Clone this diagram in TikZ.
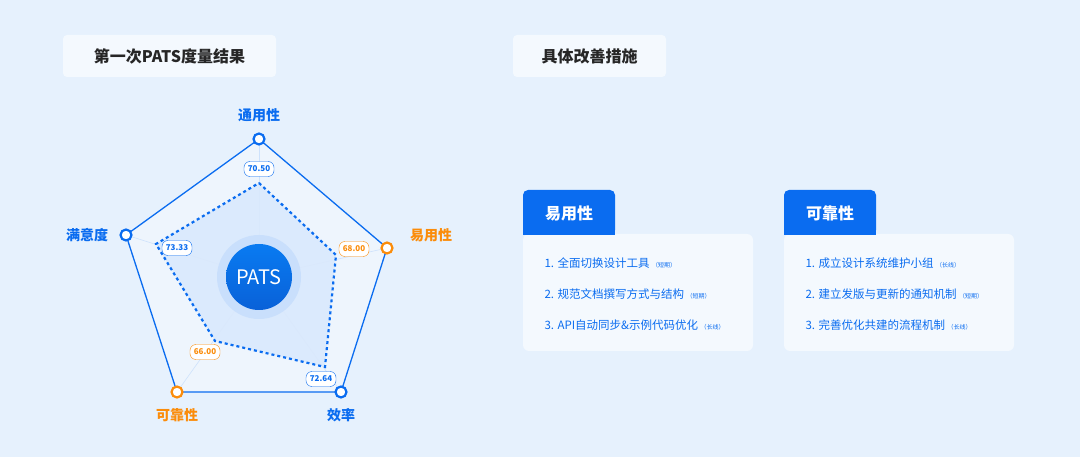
\documentclass[tikz,border=0pt]{standalone}
\usepackage{fontspec}
\setmainfont{Noto Sans CJK SC}
\definecolor{bg}{HTML}{E6F1FD}
\definecolor{blu}{HTML}{0A6CF0}
\definecolor{org}{HTML}{FB8C0A}
\definecolor{card}{HTML}{F4F9FE}
\tikzset{
 titlebox/.style={fill=card,rounded corners=4pt,minimum height=42pt,font=\fontsize{16}{18}\selectfont\bfseries,text=black!85},
 val/.style={draw=#1,fill=white,rounded corners=6pt,font=\fontsize{8}{9}\selectfont\bfseries,text=#1,inner sep=2pt,minimum width=30pt,minimum height=15pt},
 vtx/.style={circle,draw=#1,line width=2.2pt,fill=white,minimum size=11pt,inner sep=0pt},
 axl/.style={font=\fontsize{14}{16}\selectfont\bfseries,text=#1},
 item/.style={anchor=west,font=\fontsize{11.5}{13}\selectfont,text=blu}
}
\begin{document}
\begin{tikzpicture}[x=1pt,y=-1pt]
\fill[bg] (0,0) rectangle (1080,457);
\useasboundingbox (0,0) rectangle (1080,457);
\node[titlebox,minimum width=213pt] (t1) at (169.5,56) {第一次PATS度量结果};
\node[titlebox,minimum width=153pt] (t2) at (589.5,56) {具体改善措施};
% radar
\coordinate (c) at (259,277);
\coordinate (a1) at (259,139);\coordinate (a2) at (387,248);\coordinate (a3) at (341,392);
\coordinate (a4) at (177,392);\coordinate (a5) at (126,235);
\fill[white,opacity=0.35] (a1)--(a2)--(a3)--(a4)--(a5)--cycle;
\foreach \p in {a1,a2,a3,a4,a5} \draw[blu!20,line width=0.6pt] (c)--(\p);
\coordinate (d1) at (259,183);\coordinate (d2) at (336,255);\coordinate (d3) at (325,367);
\coordinate (d4) at (215,341);\coordinate (d5) at (156,244);
\fill[blu!15,opacity=0.9] (d1)--(d2)--(d3)--(d4)--(d5)--cycle;
\draw[blu,line width=2.2pt,dash pattern=on 3pt off 3pt] (d1)--(d2)--(d3)--(d4)--(d5)--cycle;
\draw[blu,line width=1.3pt] (a1)--(a2)--(a3)--(a4)--(a5)--cycle;
\fill[blu!22] (c) circle (42);
\shade[top color=blu!90!cyan,bottom color=blu!90!black] (c) circle (33);
\node[text=white,font=\fontsize{20}{22}\selectfont] (pats) at (c) {PATS};
\node[vtx=blu] (v1) at (a1) {};\node[vtx=org] (v2) at (a2) {};\node[vtx=blu] (v3) at (a3) {};
\node[vtx=org] (v4) at (a4) {};\node[vtx=blu] (v5) at (a5) {};
\node[val=blu] (l1) at (259,169) {70.50};
\node[val=org] (l2) at (354,249) {68.00};
\node[val=blu] (l3) at (321,379) {72.64};
\node[val=org] (l4) at (205,352) {66.00};
\node[val=blu] (l5) at (177,248) {73.33};
\node[axl=blu] (n1) at (259,115) {通用性};
\node[axl=org] (n2) at (431,235) {易用性};
\node[axl=blu] (n3) at (341,415) {效率};
\node[axl=org] (n4) at (177,415) {可靠性};
\node[axl=blu] (n5) at (87,235) {满意度};
% cards
\foreach \x/\t in {523/易用性,784/可靠性}{
 \fill[card,rounded corners=6pt] (\x,234) rectangle (\x+230,351);
 \fill[blu,rounded corners=5pt] (\x,190) rectangle (\x+92,235);
 \fill[blu] (\x,220) rectangle (\x+92,235);
 \node[text=white,font=\fontsize{16}{18}\selectfont\bfseries] at (\x+46,213) {\t};
}
\node[item] (i1) at (541,263) {1. 全面切换设计工具 {\fontsize{6}{7}\selectfont（短期）}};
\node[item] (i2) at (541,294) {2. 规范文档撰写方式与结构 {\fontsize{6}{7}\selectfont（短期）}};
\node[item] (i3) at (541,325) {3. API自动同步\&示例代码优化 {\fontsize{6}{7}\selectfont（长线）}};
\node[item] (j1) at (802,263) {1. 成立设计系统维护小组 {\fontsize{6}{7}\selectfont（长线）}};
\node[item] (j2) at (802,294) {2. 建立发版与更新的通知机制 {\fontsize{6}{7}\selectfont（短期）}};
\node[item] (j3) at (802,325) {3. 完善优化共建的流程机制 {\fontsize{6}{7}\selectfont（长线）}};
\end{tikzpicture}
\end{document}
